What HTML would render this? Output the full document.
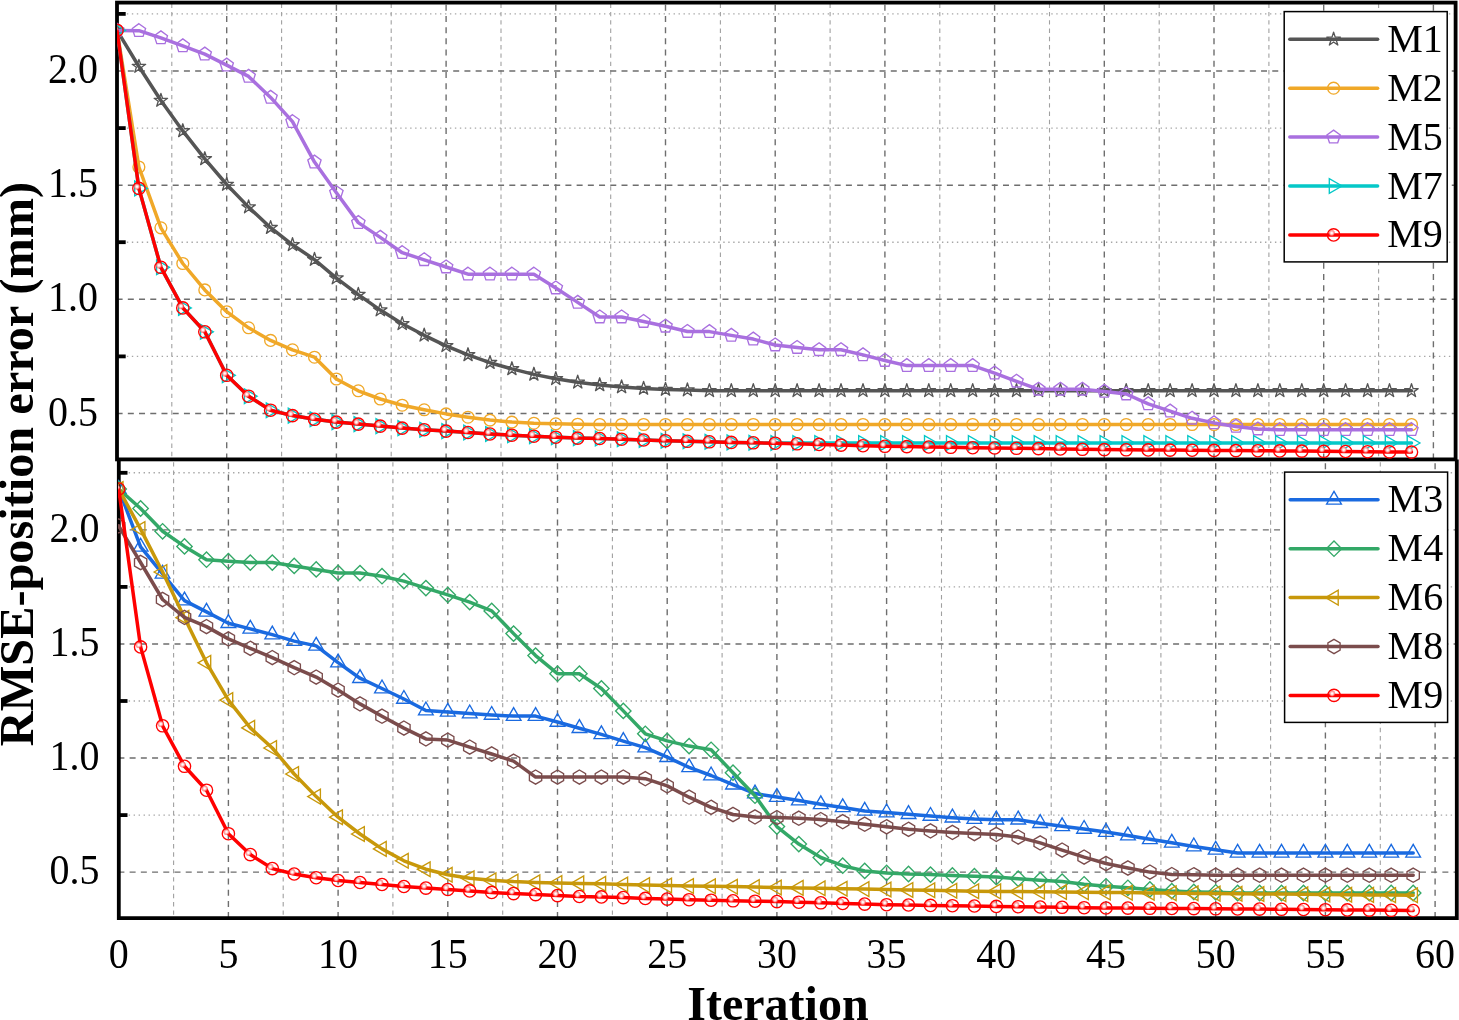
<!DOCTYPE html>
<html><head><meta charset="utf-8"><title>RMSE-position error vs Iteration</title>
<style>
html,body{margin:0;padding:0;background:#fff;}
body{width:1459px;height:1020px;overflow:hidden;}
svg{display:block;will-change:transform;}
text{font-family:"Liberation Serif",serif;fill:#000;}
.tt{font-weight:bold;}
</style></head><body>
<svg width="1459" height="1020" viewBox="0 0 1459 1020">
<defs><radialGradient id="hl"><stop offset="0" stop-color="#fff"/><stop offset="0.22" stop-color="#fff4f4"/><stop offset="0.55" stop-color="#ffa0a0" stop-opacity="0.95"/><stop offset="0.8" stop-color="#ff5555" stop-opacity="0.55"/><stop offset="1" stop-color="#ff0000" stop-opacity="0"/></radialGradient>
<clipPath id="ct"><rect x="117.0" y="2.6" width="1338.6" height="456.8"/></clipPath>
<clipPath id="cb"><rect x="118.0" y="459.4" width="1338.8" height="458.7"/></clipPath>
</defs>
<rect width="1459" height="1020" fill="#fff"/>
<g clip-path="url(#ct)"><g stroke="#a6a6a6" stroke-width="1.4" stroke-dasharray="1.4 3.57" fill="none"><line x1="121.9" y1="13.9" x2="1455.6" y2="13.9"/><line x1="121.9" y1="128.1" x2="1455.6" y2="128.1"/><line x1="121.9" y1="242.2" x2="1455.6" y2="242.2"/><line x1="121.9" y1="356.4" x2="1455.6" y2="356.4"/></g><g stroke="#a0a0a0" stroke-width="1.1" stroke-dasharray="4.4 3.9" fill="none"><line x1="171.8" y1="3.6" x2="171.8" y2="459.4"/><line x1="281.6" y1="3.6" x2="281.6" y2="459.4"/><line x1="391.2" y1="3.6" x2="391.2" y2="459.4"/><line x1="501.0" y1="3.6" x2="501.0" y2="459.4"/><line x1="610.7" y1="3.6" x2="610.7" y2="459.4"/><line x1="720.4" y1="3.6" x2="720.4" y2="459.4"/><line x1="830.1" y1="3.6" x2="830.1" y2="459.4"/><line x1="939.8" y1="3.6" x2="939.8" y2="459.4"/><line x1="1049.5" y1="3.6" x2="1049.5" y2="459.4"/><line x1="1159.2" y1="3.6" x2="1159.2" y2="459.4"/><line x1="1268.9" y1="3.6" x2="1268.9" y2="459.4"/><line x1="1378.6" y1="3.6" x2="1378.6" y2="459.4"/></g><g stroke="#6e6e6e" stroke-width="1.4" stroke-dasharray="6 5.22" fill="none"><line x1="116.6" y1="71.0" x2="1455.6" y2="71.0"/><line x1="116.6" y1="185.2" x2="1455.6" y2="185.2"/><line x1="116.6" y1="299.3" x2="1455.6" y2="299.3"/><line x1="116.6" y1="413.5" x2="1455.6" y2="413.5"/><line x1="226.7" y1="4.7" x2="226.7" y2="459.4"/><line x1="336.4" y1="4.7" x2="336.4" y2="459.4"/><line x1="446.1" y1="4.7" x2="446.1" y2="459.4"/><line x1="555.8" y1="4.7" x2="555.8" y2="459.4"/><line x1="665.5" y1="4.7" x2="665.5" y2="459.4"/><line x1="775.2" y1="4.7" x2="775.2" y2="459.4"/><line x1="884.9" y1="4.7" x2="884.9" y2="459.4"/><line x1="994.6" y1="4.7" x2="994.6" y2="459.4"/><line x1="1104.3" y1="4.7" x2="1104.3" y2="459.4"/><line x1="1214.0" y1="4.7" x2="1214.0" y2="459.4"/><line x1="1323.7" y1="4.7" x2="1323.7" y2="459.4"/><line x1="1433.4" y1="4.7" x2="1433.4" y2="459.4"/></g></g>
<g clip-path="url(#cb)"><g stroke="#a6a6a6" stroke-width="1.4" stroke-dasharray="1.4 3.57" fill="none"><line x1="123.7" y1="472.8" x2="1456.8" y2="472.8"/><line x1="123.7" y1="586.9" x2="1456.8" y2="586.9"/><line x1="123.7" y1="701.0" x2="1456.8" y2="701.0"/><line x1="123.7" y1="815.1" x2="1456.8" y2="815.1"/></g><g stroke="#a0a0a0" stroke-width="1.1" stroke-dasharray="4.4 3.9" fill="none"><line x1="173.6" y1="462.2" x2="173.6" y2="918.1"/><line x1="283.2" y1="462.2" x2="283.2" y2="918.1"/><line x1="392.9" y1="462.2" x2="392.9" y2="918.1"/><line x1="502.7" y1="462.2" x2="502.7" y2="918.1"/><line x1="612.4" y1="462.2" x2="612.4" y2="918.1"/><line x1="722.1" y1="462.2" x2="722.1" y2="918.1"/><line x1="831.8" y1="462.2" x2="831.8" y2="918.1"/><line x1="941.5" y1="462.2" x2="941.5" y2="918.1"/><line x1="1051.2" y1="462.2" x2="1051.2" y2="918.1"/><line x1="1160.9" y1="462.2" x2="1160.9" y2="918.1"/><line x1="1270.6" y1="462.2" x2="1270.6" y2="918.1"/><line x1="1380.3" y1="462.2" x2="1380.3" y2="918.1"/></g><g stroke="#6e6e6e" stroke-width="1.4" stroke-dasharray="6 5.22" fill="none"><line x1="118.4" y1="529.9" x2="1456.8" y2="529.9"/><line x1="118.4" y1="644.0" x2="1456.8" y2="644.0"/><line x1="118.4" y1="758.0" x2="1456.8" y2="758.0"/><line x1="118.4" y1="872.1" x2="1456.8" y2="872.1"/><line x1="228.4" y1="463.3" x2="228.4" y2="918.1"/><line x1="338.1" y1="463.3" x2="338.1" y2="918.1"/><line x1="447.8" y1="463.3" x2="447.8" y2="918.1"/><line x1="557.5" y1="463.3" x2="557.5" y2="918.1"/><line x1="667.2" y1="463.3" x2="667.2" y2="918.1"/><line x1="776.9" y1="463.3" x2="776.9" y2="918.1"/><line x1="886.6" y1="463.3" x2="886.6" y2="918.1"/><line x1="996.3" y1="463.3" x2="996.3" y2="918.1"/><line x1="1106.0" y1="463.3" x2="1106.0" y2="918.1"/><line x1="1215.7" y1="463.3" x2="1215.7" y2="918.1"/><line x1="1325.4" y1="463.3" x2="1325.4" y2="918.1"/><line x1="1435.1" y1="463.3" x2="1435.1" y2="918.1"/></g></g>
<g stroke="#000" stroke-width="3.8" fill="none" stroke-linecap="butt">
<rect x="117.0" y="2.6" width="1338.6" height="456.8"/>
<path d="M118.8 459.4 V918.1 H1456.8 V459.4"/>
<line x1="117.0" y1="13.9" x2="125.7" y2="13.9"/>
<line x1="118.8" y1="472.8" x2="127.5" y2="472.8"/>
<line x1="117.0" y1="128.1" x2="125.7" y2="128.1"/>
<line x1="118.8" y1="586.9" x2="127.5" y2="586.9"/>
<line x1="117.0" y1="242.2" x2="125.7" y2="242.2"/>
<line x1="118.8" y1="701.0" x2="127.5" y2="701.0"/>
<line x1="117.0" y1="356.4" x2="125.7" y2="356.4"/>
<line x1="118.8" y1="815.1" x2="127.5" y2="815.1"/>
</g>
<g clip-path="url(#ct)">
<g stroke="#555555" fill="none"><polyline points="117.0,30.4 138.9,66.5 160.9,100.5 182.8,130.9 204.8,158.9 226.7,184.5 248.6,207.1 270.6,227.7 292.5,244.8 314.5,259.6 336.4,278.1 358.3,294.6 380.3,310.1 402.2,323.8 424.2,335.3 446.1,345.8 468.0,354.9 490.0,362.7 511.9,368.9 533.9,374.4 555.8,378.8 577.7,382.3 599.7,384.9 621.6,387.0 643.6,388.5 665.5,389.5 687.4,390.1 709.4,390.8 731.3,390.8 753.3,390.8 775.2,390.8 797.1,390.8 819.1,390.8 841.0,390.8 863.0,390.8 884.9,390.8 906.8,390.8 928.8,390.8 950.7,390.8 972.7,390.8 994.6,390.8 1016.5,390.8 1038.5,390.8 1060.4,390.8 1082.4,390.8 1104.3,390.8 1126.2,390.8 1148.2,390.8 1170.1,390.8 1192.1,390.8 1214.0,390.8 1235.9,390.8 1257.9,390.8 1279.8,390.8 1301.8,390.8 1323.7,390.8 1345.6,390.8 1367.6,390.8 1389.5,390.8 1411.5,390.8" stroke-width="3.50" stroke-linejoin="round" stroke-linecap="round"/><g stroke-width="1.35" stroke-linejoin="miter"><polygon points="117.0,23.3 118.6,28.2 123.8,28.2 119.6,31.2 121.2,36.1 117.0,33.1 112.8,36.1 114.4,31.2 110.2,28.2 115.4,28.2" stroke-linejoin="round"/><polygon points="138.9,59.4 140.5,64.3 145.7,64.3 141.5,67.3 143.1,72.2 138.9,69.2 134.8,72.2 136.4,67.3 132.2,64.3 137.3,64.3" stroke-linejoin="round"/><polygon points="160.9,93.4 162.5,98.3 167.6,98.3 163.5,101.3 165.1,106.2 160.9,103.2 156.7,106.2 158.3,101.3 154.1,98.3 159.3,98.3" stroke-linejoin="round"/><polygon points="182.8,123.8 184.4,128.7 189.6,128.7 185.4,131.7 187.0,136.6 182.8,133.6 178.6,136.6 180.2,131.7 176.1,128.7 181.2,128.7" stroke-linejoin="round"/><polygon points="204.8,151.8 206.4,156.7 211.5,156.7 207.3,159.7 208.9,164.6 204.8,161.6 200.6,164.6 202.2,159.7 198.0,156.7 203.2,156.7" stroke-linejoin="round"/><polygon points="226.7,177.4 228.3,182.3 233.5,182.3 229.3,185.3 230.9,190.2 226.7,187.2 222.5,190.2 224.1,185.3 219.9,182.3 225.1,182.3" stroke-linejoin="round"/><polygon points="248.6,200.0 250.2,204.9 255.4,204.9 251.2,207.9 252.8,212.8 248.6,209.8 244.5,212.8 246.1,207.9 241.9,204.9 247.0,204.9" stroke-linejoin="round"/><polygon points="270.6,220.6 272.2,225.5 277.3,225.5 273.2,228.5 274.8,233.4 270.6,230.4 266.4,233.4 268.0,228.5 263.8,225.5 269.0,225.5" stroke-linejoin="round"/><polygon points="292.5,237.7 294.1,242.6 299.3,242.6 295.1,245.6 296.7,250.5 292.5,247.5 288.3,250.5 289.9,245.6 285.8,242.6 290.9,242.6" stroke-linejoin="round"/><polygon points="314.5,252.5 316.1,257.4 321.2,257.4 317.0,260.4 318.6,265.3 314.5,262.3 310.3,265.3 311.9,260.4 307.7,257.4 312.9,257.4" stroke-linejoin="round"/><polygon points="336.4,271.0 338.0,275.9 343.2,275.9 339.0,278.9 340.6,283.8 336.4,280.8 332.2,283.8 333.8,278.9 329.6,275.9 334.8,275.9" stroke-linejoin="round"/><polygon points="358.3,287.5 359.9,292.4 365.1,292.4 360.9,295.4 362.5,300.3 358.3,297.3 354.2,300.3 355.8,295.4 351.6,292.4 356.7,292.4" stroke-linejoin="round"/><polygon points="380.3,303.0 381.9,307.9 387.0,307.9 382.9,310.9 384.5,315.8 380.3,312.8 376.1,315.8 377.7,310.9 373.5,307.9 378.7,307.9" stroke-linejoin="round"/><polygon points="402.2,316.7 403.8,321.6 409.0,321.6 404.8,324.6 406.4,329.5 402.2,326.5 398.0,329.5 399.6,324.6 395.5,321.6 400.6,321.6" stroke-linejoin="round"/><polygon points="424.2,328.2 425.8,333.1 430.9,333.1 426.7,336.1 428.3,341.0 424.2,338.0 420.0,341.0 421.6,336.1 417.4,333.1 422.6,333.1" stroke-linejoin="round"/><polygon points="446.1,338.7 447.7,343.6 452.9,343.6 448.7,346.6 450.3,351.5 446.1,348.5 441.9,351.5 443.5,346.6 439.3,343.6 444.5,343.6" stroke-linejoin="round"/><polygon points="468.0,347.8 469.6,352.7 474.8,352.7 470.6,355.7 472.2,360.6 468.0,357.6 463.9,360.6 465.5,355.7 461.3,352.7 466.4,352.7" stroke-linejoin="round"/><polygon points="490.0,355.6 491.6,360.5 496.7,360.5 492.6,363.5 494.2,368.4 490.0,365.4 485.8,368.4 487.4,363.5 483.2,360.5 488.4,360.5" stroke-linejoin="round"/><polygon points="511.9,361.8 513.5,366.7 518.7,366.7 514.5,369.7 516.1,374.6 511.9,371.6 507.7,374.6 509.3,369.7 505.2,366.7 510.3,366.7" stroke-linejoin="round"/><polygon points="533.9,367.3 535.5,372.2 540.6,372.2 536.4,375.2 538.0,380.1 533.9,377.1 529.7,380.1 531.3,375.2 527.1,372.2 532.3,372.2" stroke-linejoin="round"/><polygon points="555.8,371.7 557.4,376.6 562.6,376.6 558.4,379.6 560.0,384.5 555.8,381.5 551.6,384.5 553.2,379.6 549.0,376.6 554.2,376.6" stroke-linejoin="round"/><polygon points="577.7,375.2 579.3,380.1 584.5,380.1 580.3,383.1 581.9,388.0 577.7,385.0 573.6,388.0 575.2,383.1 571.0,380.1 576.1,380.1" stroke-linejoin="round"/><polygon points="599.7,377.8 601.3,382.7 606.4,382.7 602.3,385.7 603.9,390.6 599.7,387.6 595.5,390.6 597.1,385.7 592.9,382.7 598.1,382.7" stroke-linejoin="round"/><polygon points="621.6,379.9 623.2,384.8 628.4,384.8 624.2,387.8 625.8,392.7 621.6,389.7 617.4,392.7 619.0,387.8 614.9,384.8 620.0,384.8" stroke-linejoin="round"/><polygon points="643.6,381.4 645.2,386.3 650.3,386.3 646.1,389.3 647.7,394.2 643.6,391.2 639.4,394.2 641.0,389.3 636.8,386.3 642.0,386.3" stroke-linejoin="round"/><polygon points="665.5,382.4 667.1,387.3 672.3,387.3 668.1,390.3 669.7,395.2 665.5,392.2 661.3,395.2 662.9,390.3 658.7,387.3 663.9,387.3" stroke-linejoin="round"/><polygon points="687.4,383.0 689.0,387.9 694.2,387.9 690.0,390.9 691.6,395.8 687.4,392.8 683.3,395.8 684.9,390.9 680.7,387.9 685.8,387.9" stroke-linejoin="round"/><polygon points="709.4,383.7 711.0,388.6 716.1,388.6 712.0,391.6 713.6,396.5 709.4,393.5 705.2,396.5 706.8,391.6 702.6,388.6 707.8,388.6" stroke-linejoin="round"/><polygon points="731.3,383.7 732.9,388.6 738.1,388.6 733.9,391.6 735.5,396.5 731.3,393.5 727.1,396.5 728.7,391.6 724.6,388.6 729.7,388.6" stroke-linejoin="round"/><polygon points="753.3,383.7 754.9,388.6 760.0,388.6 755.8,391.6 757.4,396.5 753.3,393.5 749.1,396.5 750.7,391.6 746.5,388.6 751.7,388.6" stroke-linejoin="round"/><polygon points="775.2,383.7 776.8,388.6 782.0,388.6 777.8,391.6 779.4,396.5 775.2,393.5 771.0,396.5 772.6,391.6 768.4,388.6 773.6,388.6" stroke-linejoin="round"/><polygon points="797.1,383.7 798.7,388.6 803.9,388.6 799.7,391.6 801.3,396.5 797.1,393.5 793.0,396.5 794.6,391.6 790.4,388.6 795.5,388.6" stroke-linejoin="round"/><polygon points="819.1,383.7 820.7,388.6 825.8,388.6 821.7,391.6 823.3,396.5 819.1,393.5 814.9,396.5 816.5,391.6 812.3,388.6 817.5,388.6" stroke-linejoin="round"/><polygon points="841.0,383.7 842.6,388.6 847.8,388.6 843.6,391.6 845.2,396.5 841.0,393.5 836.8,396.5 838.4,391.6 834.3,388.6 839.4,388.6" stroke-linejoin="round"/><polygon points="863.0,383.7 864.6,388.6 869.7,388.6 865.5,391.6 867.1,396.5 863.0,393.5 858.8,396.5 860.4,391.6 856.2,388.6 861.4,388.6" stroke-linejoin="round"/><polygon points="884.9,383.7 886.5,388.6 891.7,388.6 887.5,391.6 889.1,396.5 884.9,393.5 880.7,396.5 882.3,391.6 878.1,388.6 883.3,388.6" stroke-linejoin="round"/><polygon points="906.8,383.7 908.4,388.6 913.6,388.6 909.4,391.6 911.0,396.5 906.8,393.5 902.7,396.5 904.3,391.6 900.1,388.6 905.2,388.6" stroke-linejoin="round"/><polygon points="928.8,383.7 930.4,388.6 935.5,388.6 931.4,391.6 933.0,396.5 928.8,393.5 924.6,396.5 926.2,391.6 922.0,388.6 927.2,388.6" stroke-linejoin="round"/><polygon points="950.7,383.7 952.3,388.6 957.5,388.6 953.3,391.6 954.9,396.5 950.7,393.5 946.5,396.5 948.1,391.6 944.0,388.6 949.1,388.6" stroke-linejoin="round"/><polygon points="972.7,383.7 974.3,388.6 979.4,388.6 975.2,391.6 976.8,396.5 972.7,393.5 968.5,396.5 970.1,391.6 965.9,388.6 971.1,388.6" stroke-linejoin="round"/><polygon points="994.6,383.7 996.2,388.6 1001.4,388.6 997.2,391.6 998.8,396.5 994.6,393.5 990.4,396.5 992.0,391.6 987.8,388.6 993.0,388.6" stroke-linejoin="round"/><polygon points="1016.5,383.7 1018.1,388.6 1023.3,388.6 1019.1,391.6 1020.7,396.5 1016.5,393.5 1012.4,396.5 1014.0,391.6 1009.8,388.6 1014.9,388.6" stroke-linejoin="round"/><polygon points="1038.5,383.7 1040.1,388.6 1045.2,388.6 1041.1,391.6 1042.7,396.5 1038.5,393.5 1034.3,396.5 1035.9,391.6 1031.7,388.6 1036.9,388.6" stroke-linejoin="round"/><polygon points="1060.4,383.7 1062.0,388.6 1067.2,388.6 1063.0,391.6 1064.6,396.5 1060.4,393.5 1056.2,396.5 1057.8,391.6 1053.7,388.6 1058.8,388.6" stroke-linejoin="round"/><polygon points="1082.4,383.7 1084.0,388.6 1089.1,388.6 1084.9,391.6 1086.5,396.5 1082.4,393.5 1078.2,396.5 1079.8,391.6 1075.6,388.6 1080.8,388.6" stroke-linejoin="round"/><polygon points="1104.3,383.7 1105.9,388.6 1111.1,388.6 1106.9,391.6 1108.5,396.5 1104.3,393.5 1100.1,396.5 1101.7,391.6 1097.5,388.6 1102.7,388.6" stroke-linejoin="round"/><polygon points="1126.2,383.7 1127.8,388.6 1133.0,388.6 1128.8,391.6 1130.4,396.5 1126.2,393.5 1122.1,396.5 1123.7,391.6 1119.5,388.6 1124.6,388.6" stroke-linejoin="round"/><polygon points="1148.2,383.7 1149.8,388.6 1154.9,388.6 1150.8,391.6 1152.4,396.5 1148.2,393.5 1144.0,396.5 1145.6,391.6 1141.4,388.6 1146.6,388.6" stroke-linejoin="round"/><polygon points="1170.1,383.7 1171.7,388.6 1176.9,388.6 1172.7,391.6 1174.3,396.5 1170.1,393.5 1165.9,396.5 1167.5,391.6 1163.4,388.6 1168.5,388.6" stroke-linejoin="round"/><polygon points="1192.1,383.7 1193.7,388.6 1198.8,388.6 1194.6,391.6 1196.2,396.5 1192.1,393.5 1187.9,396.5 1189.5,391.6 1185.3,388.6 1190.5,388.6" stroke-linejoin="round"/><polygon points="1214.0,383.7 1215.6,388.6 1220.8,388.6 1216.6,391.6 1218.2,396.5 1214.0,393.5 1209.8,396.5 1211.4,391.6 1207.2,388.6 1212.4,388.6" stroke-linejoin="round"/><polygon points="1235.9,383.7 1237.5,388.6 1242.7,388.6 1238.5,391.6 1240.1,396.5 1235.9,393.5 1231.8,396.5 1233.4,391.6 1229.2,388.6 1234.3,388.6" stroke-linejoin="round"/><polygon points="1257.9,383.7 1259.5,388.6 1264.6,388.6 1260.5,391.6 1262.1,396.5 1257.9,393.5 1253.7,396.5 1255.3,391.6 1251.1,388.6 1256.3,388.6" stroke-linejoin="round"/><polygon points="1279.8,383.7 1281.4,388.6 1286.6,388.6 1282.4,391.6 1284.0,396.5 1279.8,393.5 1275.6,396.5 1277.2,391.6 1273.1,388.6 1278.2,388.6" stroke-linejoin="round"/><polygon points="1301.8,383.7 1303.4,388.6 1308.5,388.6 1304.3,391.6 1305.9,396.5 1301.8,393.5 1297.6,396.5 1299.2,391.6 1295.0,388.6 1300.2,388.6" stroke-linejoin="round"/><polygon points="1323.7,383.7 1325.3,388.6 1330.5,388.6 1326.3,391.6 1327.9,396.5 1323.7,393.5 1319.5,396.5 1321.1,391.6 1316.9,388.6 1322.1,388.6" stroke-linejoin="round"/><polygon points="1345.6,383.7 1347.2,388.6 1352.4,388.6 1348.2,391.6 1349.8,396.5 1345.6,393.5 1341.5,396.5 1343.1,391.6 1338.9,388.6 1344.0,388.6" stroke-linejoin="round"/><polygon points="1367.6,383.7 1369.2,388.6 1374.3,388.6 1370.2,391.6 1371.8,396.5 1367.6,393.5 1363.4,396.5 1365.0,391.6 1360.8,388.6 1366.0,388.6" stroke-linejoin="round"/><polygon points="1389.5,383.7 1391.1,388.6 1396.3,388.6 1392.1,391.6 1393.7,396.5 1389.5,393.5 1385.3,396.5 1386.9,391.6 1382.8,388.6 1387.9,388.6" stroke-linejoin="round"/><polygon points="1411.5,383.7 1413.1,388.6 1418.2,388.6 1414.0,391.6 1415.6,396.5 1411.5,393.5 1407.3,396.5 1408.9,391.6 1404.7,388.6 1409.9,388.6" stroke-linejoin="round"/></g></g>
<g stroke="#F0A828" fill="none"><polyline points="117.0,30.4 138.9,167.0 160.9,227.8 182.8,263.5 204.8,289.9 226.7,311.7 248.6,327.8 270.6,340.4 292.5,349.8 314.5,357.2 336.4,379.0 358.3,390.8 380.3,399.0 402.2,405.2 424.2,409.8 446.1,413.9 468.0,417.2 490.0,420.1 511.9,422.1 533.9,423.2 555.8,423.8 577.7,424.2 599.7,424.5 621.6,424.5 643.6,424.5 665.5,424.5 687.4,424.5 709.4,424.5 731.3,424.5 753.3,424.5 775.2,424.5 797.1,424.5 819.1,424.5 841.0,424.5 863.0,424.5 884.9,424.5 906.8,424.5 928.8,424.5 950.7,424.5 972.7,424.5 994.6,424.5 1016.5,424.5 1038.5,424.5 1060.4,424.5 1082.4,424.5 1104.3,424.5 1126.2,424.5 1148.2,424.5 1170.1,424.5 1192.1,424.5 1214.0,424.5 1235.9,424.5 1257.9,424.5 1279.8,424.5 1301.8,424.5 1323.7,424.5 1345.6,424.5 1367.6,424.5 1389.5,424.5 1411.5,424.5" stroke-width="3.50" stroke-linejoin="round" stroke-linecap="round"/><g stroke-width="1.35" stroke-linejoin="miter"><circle cx="117.0" cy="30.4" r="5.9"/><circle cx="138.9" cy="167.0" r="5.9"/><circle cx="160.9" cy="227.8" r="5.9"/><circle cx="182.8" cy="263.5" r="5.9"/><circle cx="204.8" cy="289.9" r="5.9"/><circle cx="226.7" cy="311.7" r="5.9"/><circle cx="248.6" cy="327.8" r="5.9"/><circle cx="270.6" cy="340.4" r="5.9"/><circle cx="292.5" cy="349.8" r="5.9"/><circle cx="314.5" cy="357.2" r="5.9"/><circle cx="336.4" cy="379.0" r="5.9"/><circle cx="358.3" cy="390.8" r="5.9"/><circle cx="380.3" cy="399.0" r="5.9"/><circle cx="402.2" cy="405.2" r="5.9"/><circle cx="424.2" cy="409.8" r="5.9"/><circle cx="446.1" cy="413.9" r="5.9"/><circle cx="468.0" cy="417.2" r="5.9"/><circle cx="490.0" cy="420.1" r="5.9"/><circle cx="511.9" cy="422.1" r="5.9"/><circle cx="533.9" cy="423.2" r="5.9"/><circle cx="555.8" cy="423.8" r="5.9"/><circle cx="577.7" cy="424.2" r="5.9"/><circle cx="599.7" cy="424.5" r="5.9"/><circle cx="621.6" cy="424.5" r="5.9"/><circle cx="643.6" cy="424.5" r="5.9"/><circle cx="665.5" cy="424.5" r="5.9"/><circle cx="687.4" cy="424.5" r="5.9"/><circle cx="709.4" cy="424.5" r="5.9"/><circle cx="731.3" cy="424.5" r="5.9"/><circle cx="753.3" cy="424.5" r="5.9"/><circle cx="775.2" cy="424.5" r="5.9"/><circle cx="797.1" cy="424.5" r="5.9"/><circle cx="819.1" cy="424.5" r="5.9"/><circle cx="841.0" cy="424.5" r="5.9"/><circle cx="863.0" cy="424.5" r="5.9"/><circle cx="884.9" cy="424.5" r="5.9"/><circle cx="906.8" cy="424.5" r="5.9"/><circle cx="928.8" cy="424.5" r="5.9"/><circle cx="950.7" cy="424.5" r="5.9"/><circle cx="972.7" cy="424.5" r="5.9"/><circle cx="994.6" cy="424.5" r="5.9"/><circle cx="1016.5" cy="424.5" r="5.9"/><circle cx="1038.5" cy="424.5" r="5.9"/><circle cx="1060.4" cy="424.5" r="5.9"/><circle cx="1082.4" cy="424.5" r="5.9"/><circle cx="1104.3" cy="424.5" r="5.9"/><circle cx="1126.2" cy="424.5" r="5.9"/><circle cx="1148.2" cy="424.5" r="5.9"/><circle cx="1170.1" cy="424.5" r="5.9"/><circle cx="1192.1" cy="424.5" r="5.9"/><circle cx="1214.0" cy="424.5" r="5.9"/><circle cx="1235.9" cy="424.5" r="5.9"/><circle cx="1257.9" cy="424.5" r="5.9"/><circle cx="1279.8" cy="424.5" r="5.9"/><circle cx="1301.8" cy="424.5" r="5.9"/><circle cx="1323.7" cy="424.5" r="5.9"/><circle cx="1345.6" cy="424.5" r="5.9"/><circle cx="1367.6" cy="424.5" r="5.9"/><circle cx="1389.5" cy="424.5" r="5.9"/><circle cx="1411.5" cy="424.5" r="5.9"/></g></g>
<g stroke="#A970DF" fill="none"><polyline points="117.0,30.4 138.9,30.7 160.9,37.9 182.8,45.9 204.8,54.1 226.7,65.1 248.6,76.4 270.6,97.4 292.5,121.7 314.5,162.1 336.4,192.7 358.3,222.6 380.3,237.4 402.2,252.7 424.2,259.8 446.1,267.0 468.0,274.2 490.0,274.2 511.9,274.2 533.9,274.2 555.8,288.0 577.7,302.4 599.7,317.0 621.6,317.0 643.6,321.5 665.5,326.3 687.4,331.5 709.4,331.6 731.3,335.4 753.3,339.1 775.2,345.0 797.1,347.5 819.1,349.8 841.0,349.8 863.0,354.9 884.9,360.5 906.8,365.6 928.8,365.6 950.7,365.6 972.7,365.6 994.6,373.1 1016.5,381.3 1038.5,389.3 1060.4,389.3 1082.4,389.3 1104.3,391.4 1126.2,394.0 1148.2,403.9 1170.1,411.1 1192.1,418.3 1214.0,422.9 1235.9,426.4 1257.9,429.0 1279.8,429.7 1301.8,429.7 1323.7,429.7 1345.6,429.7 1367.6,429.7 1389.5,429.7 1411.5,429.7" stroke-width="3.50" stroke-linejoin="round" stroke-linecap="round"/><g stroke-width="1.35" stroke-linejoin="miter"><polygon points="117.0,23.4 123.7,28.2 121.1,36.1 112.9,36.1 110.3,28.2"/><polygon points="138.9,23.7 145.6,28.5 143.1,36.4 134.8,36.4 132.3,28.5"/><polygon points="160.9,30.9 167.5,35.7 165.0,43.6 156.8,43.6 154.2,35.7"/><polygon points="182.8,38.9 189.5,43.7 186.9,51.6 178.7,51.6 176.2,43.7"/><polygon points="204.8,47.1 211.4,51.9 208.9,59.8 200.6,59.8 198.1,51.9"/><polygon points="226.7,58.1 233.4,62.9 230.8,70.8 222.6,70.8 220.0,62.9"/><polygon points="248.6,69.4 255.3,74.2 252.8,82.1 244.5,82.1 242.0,74.2"/><polygon points="270.6,90.4 277.2,95.2 274.7,103.1 266.5,103.1 263.9,95.2"/><polygon points="292.5,114.7 299.2,119.5 296.6,127.4 288.4,127.4 285.9,119.5"/><polygon points="314.5,155.1 321.1,159.9 318.6,167.8 310.3,167.8 307.8,159.9"/><polygon points="336.4,185.7 343.1,190.5 340.5,198.4 332.3,198.4 329.7,190.5"/><polygon points="358.3,215.6 365.0,220.4 362.5,228.3 354.2,228.3 351.7,220.4"/><polygon points="380.3,230.4 386.9,235.2 384.4,243.1 376.2,243.1 373.6,235.2"/><polygon points="402.2,245.7 408.9,250.5 406.3,258.4 398.1,258.4 395.6,250.5"/><polygon points="424.2,252.8 430.8,257.6 428.3,265.5 420.0,265.5 417.5,257.6"/><polygon points="446.1,260.0 452.8,264.8 450.2,272.7 442.0,272.7 439.4,264.8"/><polygon points="468.0,267.2 474.7,272.0 472.2,279.9 463.9,279.9 461.4,272.0"/><polygon points="490.0,267.2 496.6,272.0 494.1,279.9 485.9,279.9 483.3,272.0"/><polygon points="511.9,267.2 518.6,272.0 516.0,279.9 507.8,279.9 505.3,272.0"/><polygon points="533.9,267.2 540.5,272.0 538.0,279.9 529.7,279.9 527.2,272.0"/><polygon points="555.8,281.0 562.5,285.8 559.9,293.7 551.7,293.7 549.1,285.8"/><polygon points="577.7,295.4 584.4,300.2 581.9,308.1 573.6,308.1 571.1,300.2"/><polygon points="599.7,310.0 606.3,314.8 603.8,322.7 595.6,322.7 593.0,314.8"/><polygon points="621.6,310.0 628.3,314.8 625.7,322.7 617.5,322.7 615.0,314.8"/><polygon points="643.6,314.5 650.2,319.3 647.7,327.2 639.4,327.2 636.9,319.3"/><polygon points="665.5,319.3 672.2,324.1 669.6,332.0 661.4,332.0 658.8,324.1"/><polygon points="687.4,324.5 694.1,329.3 691.6,337.2 683.3,337.2 680.8,329.3"/><polygon points="709.4,324.6 716.0,329.4 713.5,337.3 705.3,337.3 702.7,329.4"/><polygon points="731.3,328.4 738.0,333.2 735.4,341.1 727.2,341.1 724.7,333.2"/><polygon points="753.3,332.1 759.9,336.9 757.4,344.8 749.1,344.8 746.6,336.9"/><polygon points="775.2,338.0 781.9,342.8 779.3,350.7 771.1,350.7 768.5,342.8"/><polygon points="797.1,340.5 803.8,345.3 801.3,353.2 793.0,353.2 790.5,345.3"/><polygon points="819.1,342.8 825.7,347.6 823.2,355.5 815.0,355.5 812.4,347.6"/><polygon points="841.0,342.8 847.7,347.6 845.1,355.5 836.9,355.5 834.4,347.6"/><polygon points="863.0,347.9 869.6,352.7 867.1,360.6 858.8,360.6 856.3,352.7"/><polygon points="884.9,353.5 891.6,358.3 889.0,366.2 880.8,366.2 878.2,358.3"/><polygon points="906.8,358.6 913.5,363.4 911.0,371.3 902.7,371.3 900.2,363.4"/><polygon points="928.8,358.6 935.4,363.4 932.9,371.3 924.7,371.3 922.1,363.4"/><polygon points="950.7,358.6 957.4,363.4 954.8,371.3 946.6,371.3 944.1,363.4"/><polygon points="972.7,358.6 979.3,363.4 976.8,371.3 968.5,371.3 966.0,363.4"/><polygon points="994.6,366.1 1001.3,370.9 998.7,378.8 990.5,378.8 987.9,370.9"/><polygon points="1016.5,374.3 1023.2,379.1 1020.7,387.0 1012.4,387.0 1009.9,379.1"/><polygon points="1038.5,382.3 1045.1,387.1 1042.6,395.0 1034.4,395.0 1031.8,387.1"/><polygon points="1060.4,382.3 1067.1,387.1 1064.5,395.0 1056.3,395.0 1053.8,387.1"/><polygon points="1082.4,382.3 1089.0,387.1 1086.5,395.0 1078.2,395.0 1075.7,387.1"/><polygon points="1104.3,384.4 1111.0,389.2 1108.4,397.1 1100.2,397.1 1097.6,389.2"/><polygon points="1126.2,387.0 1132.9,391.8 1130.4,399.7 1122.1,399.7 1119.6,391.8"/><polygon points="1148.2,396.9 1154.8,401.7 1152.3,409.6 1144.1,409.6 1141.5,401.7"/><polygon points="1170.1,404.1 1176.8,408.9 1174.2,416.8 1166.0,416.8 1163.5,408.9"/><polygon points="1192.1,411.3 1198.7,416.1 1196.2,424.0 1187.9,424.0 1185.4,416.1"/><polygon points="1214.0,415.9 1220.7,420.7 1218.1,428.6 1209.9,428.6 1207.3,420.7"/><polygon points="1235.9,419.4 1242.6,424.2 1240.1,432.1 1231.8,432.1 1229.3,424.2"/><polygon points="1257.9,422.0 1264.5,426.8 1262.0,434.7 1253.8,434.7 1251.2,426.8"/><polygon points="1279.8,422.7 1286.5,427.5 1283.9,435.4 1275.7,435.4 1273.2,427.5"/><polygon points="1301.8,422.7 1308.4,427.5 1305.9,435.4 1297.6,435.4 1295.1,427.5"/><polygon points="1323.7,422.7 1330.4,427.5 1327.8,435.4 1319.6,435.4 1317.0,427.5"/><polygon points="1345.6,422.7 1352.3,427.5 1349.8,435.4 1341.5,435.4 1339.0,427.5"/><polygon points="1367.6,422.7 1374.2,427.5 1371.7,435.4 1363.5,435.4 1360.9,427.5"/><polygon points="1389.5,422.7 1396.2,427.5 1393.6,435.4 1385.4,435.4 1382.9,427.5"/><polygon points="1411.5,422.7 1418.1,427.5 1415.6,435.4 1407.3,435.4 1404.8,427.5"/></g></g>
<g stroke="#05C8C8" fill="none"><polyline points="117.0,30.4 138.9,188.4 160.9,267.3 182.8,307.9 204.8,331.8 226.7,375.3 248.6,396.2 270.6,410.2 292.5,415.6 314.5,419.3 336.4,422.1 358.3,424.1 380.3,426.1 402.2,428.1 424.2,429.7 446.1,431.1 468.0,432.5 490.0,434.0 511.9,435.2 533.9,436.2 555.8,437.2 577.7,438.1 599.7,438.5 621.6,439.2 643.6,440.0 665.5,440.7 687.4,441.3 709.4,441.8 731.3,442.4 753.3,442.8 775.2,443.0 797.1,443.0 819.1,443.0 841.0,443.0 863.0,443.0 884.9,443.0 906.8,443.0 928.8,443.0 950.7,443.0 972.7,443.0 994.6,443.0 1016.5,443.0 1038.5,443.0 1060.4,443.0 1082.4,443.0 1104.3,443.0 1126.2,443.0 1148.2,443.0 1170.1,443.0 1192.1,443.0 1214.0,443.0 1235.9,443.0 1257.9,443.0 1279.8,443.0 1301.8,443.0 1323.7,443.0 1345.6,443.0 1367.6,443.0 1389.5,443.0 1411.5,443.0" stroke-width="3.50" stroke-linejoin="round" stroke-linecap="round"/><g stroke-width="1.35" stroke-linejoin="miter"><polygon points="125.5,30.4 112.8,37.8 112.8,23.0"/><polygon points="147.4,188.4 134.7,195.8 134.7,181.0"/><polygon points="169.4,267.3 156.6,274.7 156.6,259.9"/><polygon points="191.3,307.9 178.6,315.3 178.6,300.5"/><polygon points="213.3,331.8 200.5,339.2 200.5,324.4"/><polygon points="235.2,375.3 222.4,382.7 222.4,367.9"/><polygon points="257.1,396.2 244.4,403.6 244.4,388.8"/><polygon points="279.1,410.2 266.3,417.6 266.3,402.8"/><polygon points="301.0,415.6 288.3,423.0 288.3,408.2"/><polygon points="323.0,419.3 310.2,426.7 310.2,411.9"/><polygon points="344.9,422.1 332.1,429.5 332.1,414.7"/><polygon points="366.8,424.1 354.1,431.5 354.1,416.7"/><polygon points="388.8,426.1 376.0,433.5 376.0,418.7"/><polygon points="410.7,428.1 398.0,435.5 398.0,420.7"/><polygon points="432.7,429.7 419.9,437.1 419.9,422.3"/><polygon points="454.6,431.1 441.9,438.5 441.9,423.7"/><polygon points="476.5,432.5 463.8,439.9 463.8,425.1"/><polygon points="498.5,434.0 485.7,441.4 485.7,426.6"/><polygon points="520.4,435.2 507.7,442.6 507.7,427.8"/><polygon points="542.4,436.2 529.6,443.6 529.6,428.8"/><polygon points="564.3,437.2 551.5,444.6 551.5,429.8"/><polygon points="586.2,438.1 573.5,445.5 573.5,430.7"/><polygon points="608.2,438.5 595.4,445.9 595.4,431.1"/><polygon points="630.1,439.2 617.4,446.6 617.4,431.8"/><polygon points="652.1,440.0 639.3,447.4 639.3,432.6"/><polygon points="674.0,440.7 661.2,448.1 661.2,433.3"/><polygon points="695.9,441.3 683.2,448.7 683.2,433.9"/><polygon points="717.9,441.8 705.1,449.2 705.1,434.4"/><polygon points="739.8,442.4 727.1,449.8 727.1,435.0"/><polygon points="761.8,442.8 749.0,450.2 749.0,435.4"/><polygon points="783.7,443.0 771.0,450.4 771.0,435.6"/><polygon points="805.6,443.0 792.9,450.4 792.9,435.6"/><polygon points="827.6,443.0 814.8,450.4 814.8,435.6"/><polygon points="849.5,443.0 836.8,450.4 836.8,435.6"/><polygon points="871.5,443.0 858.7,450.4 858.7,435.6"/><polygon points="893.4,443.0 880.7,450.4 880.7,435.6"/><polygon points="915.3,443.0 902.6,450.4 902.6,435.6"/><polygon points="937.3,443.0 924.5,450.4 924.5,435.6"/><polygon points="959.2,443.0 946.5,450.4 946.5,435.6"/><polygon points="981.2,443.0 968.4,450.4 968.4,435.6"/><polygon points="1003.1,443.0 990.4,450.4 990.4,435.6"/><polygon points="1025.0,443.0 1012.3,450.4 1012.3,435.6"/><polygon points="1047.0,443.0 1034.2,450.4 1034.2,435.6"/><polygon points="1068.9,443.0 1056.2,450.4 1056.2,435.6"/><polygon points="1090.9,443.0 1078.1,450.4 1078.1,435.6"/><polygon points="1112.8,443.0 1100.1,450.4 1100.1,435.6"/><polygon points="1134.7,443.0 1122.0,450.4 1122.0,435.6"/><polygon points="1156.7,443.0 1143.9,450.4 1143.9,435.6"/><polygon points="1178.6,443.0 1165.9,450.4 1165.9,435.6"/><polygon points="1200.6,443.0 1187.8,450.4 1187.8,435.6"/><polygon points="1222.5,443.0 1209.8,450.4 1209.8,435.6"/><polygon points="1244.4,443.0 1231.7,450.4 1231.7,435.6"/><polygon points="1266.4,443.0 1253.6,450.4 1253.6,435.6"/><polygon points="1288.3,443.0 1275.6,450.4 1275.6,435.6"/><polygon points="1310.3,443.0 1297.5,450.4 1297.5,435.6"/><polygon points="1332.2,443.0 1319.5,450.4 1319.5,435.6"/><polygon points="1354.1,443.0 1341.4,450.4 1341.4,435.6"/><polygon points="1376.1,443.0 1363.3,450.4 1363.3,435.6"/><polygon points="1398.0,443.0 1385.3,450.4 1385.3,435.6"/><polygon points="1420.0,443.0 1407.2,450.4 1407.2,435.6"/></g></g>
<g stroke="#FF0000" fill="none"><polyline points="117.0,30.4 138.9,188.4 160.9,267.3 182.8,307.9 204.8,331.8 226.7,375.3 248.6,396.2 270.6,410.2 292.5,415.6 314.5,419.3 336.4,422.1 358.3,424.1 380.3,426.1 402.2,428.1 424.2,429.7 446.1,431.1 468.0,432.5 490.0,434.0 511.9,435.2 533.9,436.2 555.8,437.2 577.7,438.1 599.7,438.5 621.6,439.2 643.6,440.0 665.5,440.7 687.4,441.3 709.4,441.8 731.3,442.4 753.3,442.8 775.2,443.2 797.1,443.8 819.1,444.4 841.0,445.1 863.0,445.7 884.9,446.3 906.8,446.6 928.8,447.0 950.7,447.3 972.7,447.7 994.6,448.0 1016.5,448.3 1038.5,448.6 1060.4,449.0 1082.4,449.3 1104.3,449.6 1126.2,449.8 1148.2,449.9 1170.1,450.1 1192.1,450.2 1214.0,450.4 1235.9,450.6 1257.9,450.7 1279.8,450.9 1301.8,451.1 1323.7,451.3 1345.6,451.5 1367.6,451.7 1389.5,451.9 1411.5,452.1" stroke-width="3.50" stroke-linejoin="round" stroke-linecap="round"/><g stroke="none" fill="url(#hl)"><circle cx="115.1" cy="28.5" r="3.6"/><circle cx="137.0" cy="186.6" r="3.6"/><circle cx="159.0" cy="265.4" r="3.6"/><circle cx="180.9" cy="306.1" r="3.6"/><circle cx="202.9" cy="329.9" r="3.6"/><circle cx="224.8" cy="373.4" r="3.6"/><circle cx="246.7" cy="394.3" r="3.6"/><circle cx="268.7" cy="408.3" r="3.6"/><circle cx="290.6" cy="413.8" r="3.6"/><circle cx="312.6" cy="417.4" r="3.6"/><circle cx="334.5" cy="420.2" r="3.6"/><circle cx="356.4" cy="422.2" r="3.6"/><circle cx="378.4" cy="424.2" r="3.6"/><circle cx="400.3" cy="426.2" r="3.6"/><circle cx="422.3" cy="427.8" r="3.6"/><circle cx="444.2" cy="429.2" r="3.6"/><circle cx="466.1" cy="430.6" r="3.6"/><circle cx="488.1" cy="432.1" r="3.6"/><circle cx="510.0" cy="433.3" r="3.6"/><circle cx="532.0" cy="434.3" r="3.6"/><circle cx="553.9" cy="435.3" r="3.6"/><circle cx="575.8" cy="436.2" r="3.6"/><circle cx="597.8" cy="436.6" r="3.6"/><circle cx="619.7" cy="437.3" r="3.6"/><circle cx="641.7" cy="438.1" r="3.6"/><circle cx="663.6" cy="438.8" r="3.6"/><circle cx="685.5" cy="439.4" r="3.6"/><circle cx="707.5" cy="439.9" r="3.6"/><circle cx="729.4" cy="440.6" r="3.6"/><circle cx="751.4" cy="440.9" r="3.6"/><circle cx="773.3" cy="441.3" r="3.6"/><circle cx="795.2" cy="441.9" r="3.6"/><circle cx="817.2" cy="442.6" r="3.6"/><circle cx="839.1" cy="443.2" r="3.6"/><circle cx="861.1" cy="443.8" r="3.6"/><circle cx="883.0" cy="444.4" r="3.6"/><circle cx="904.9" cy="444.8" r="3.6"/><circle cx="926.9" cy="445.1" r="3.6"/><circle cx="948.8" cy="445.5" r="3.6"/><circle cx="970.8" cy="445.8" r="3.6"/><circle cx="992.7" cy="446.1" r="3.6"/><circle cx="1014.6" cy="446.5" r="3.6"/><circle cx="1036.6" cy="446.8" r="3.6"/><circle cx="1058.5" cy="447.1" r="3.6"/><circle cx="1080.5" cy="447.4" r="3.6"/><circle cx="1102.4" cy="447.8" r="3.6"/><circle cx="1124.3" cy="447.9" r="3.6"/><circle cx="1146.3" cy="448.1" r="3.6"/><circle cx="1168.2" cy="448.2" r="3.6"/><circle cx="1190.2" cy="448.4" r="3.6"/><circle cx="1212.1" cy="448.6" r="3.6"/><circle cx="1234.0" cy="448.7" r="3.6"/><circle cx="1256.0" cy="448.9" r="3.6"/><circle cx="1277.9" cy="449.1" r="3.6"/><circle cx="1299.9" cy="449.2" r="3.6"/><circle cx="1321.8" cy="449.4" r="3.6"/><circle cx="1343.7" cy="449.7" r="3.6"/><circle cx="1365.7" cy="449.9" r="3.6"/><circle cx="1387.6" cy="450.1" r="3.6"/><circle cx="1409.6" cy="450.2" r="3.6"/></g><g stroke-width="1.35" stroke-linejoin="miter"><circle cx="117.0" cy="30.4" r="6.15"/><circle cx="138.9" cy="188.4" r="6.15"/><circle cx="160.9" cy="267.3" r="6.15"/><circle cx="182.8" cy="307.9" r="6.15"/><circle cx="204.8" cy="331.8" r="6.15"/><circle cx="226.7" cy="375.3" r="6.15"/><circle cx="248.6" cy="396.2" r="6.15"/><circle cx="270.6" cy="410.2" r="6.15"/><circle cx="292.5" cy="415.6" r="6.15"/><circle cx="314.5" cy="419.3" r="6.15"/><circle cx="336.4" cy="422.1" r="6.15"/><circle cx="358.3" cy="424.1" r="6.15"/><circle cx="380.3" cy="426.1" r="6.15"/><circle cx="402.2" cy="428.1" r="6.15"/><circle cx="424.2" cy="429.7" r="6.15"/><circle cx="446.1" cy="431.1" r="6.15"/><circle cx="468.0" cy="432.5" r="6.15"/><circle cx="490.0" cy="434.0" r="6.15"/><circle cx="511.9" cy="435.2" r="6.15"/><circle cx="533.9" cy="436.2" r="6.15"/><circle cx="555.8" cy="437.2" r="6.15"/><circle cx="577.7" cy="438.1" r="6.15"/><circle cx="599.7" cy="438.5" r="6.15"/><circle cx="621.6" cy="439.2" r="6.15"/><circle cx="643.6" cy="440.0" r="6.15"/><circle cx="665.5" cy="440.7" r="6.15"/><circle cx="687.4" cy="441.3" r="6.15"/><circle cx="709.4" cy="441.8" r="6.15"/><circle cx="731.3" cy="442.4" r="6.15"/><circle cx="753.3" cy="442.8" r="6.15"/><circle cx="775.2" cy="443.2" r="6.15"/><circle cx="797.1" cy="443.8" r="6.15"/><circle cx="819.1" cy="444.4" r="6.15"/><circle cx="841.0" cy="445.1" r="6.15"/><circle cx="863.0" cy="445.7" r="6.15"/><circle cx="884.9" cy="446.3" r="6.15"/><circle cx="906.8" cy="446.6" r="6.15"/><circle cx="928.8" cy="447.0" r="6.15"/><circle cx="950.7" cy="447.3" r="6.15"/><circle cx="972.7" cy="447.7" r="6.15"/><circle cx="994.6" cy="448.0" r="6.15"/><circle cx="1016.5" cy="448.3" r="6.15"/><circle cx="1038.5" cy="448.6" r="6.15"/><circle cx="1060.4" cy="449.0" r="6.15"/><circle cx="1082.4" cy="449.3" r="6.15"/><circle cx="1104.3" cy="449.6" r="6.15"/><circle cx="1126.2" cy="449.8" r="6.15"/><circle cx="1148.2" cy="449.9" r="6.15"/><circle cx="1170.1" cy="450.1" r="6.15"/><circle cx="1192.1" cy="450.2" r="6.15"/><circle cx="1214.0" cy="450.4" r="6.15"/><circle cx="1235.9" cy="450.6" r="6.15"/><circle cx="1257.9" cy="450.7" r="6.15"/><circle cx="1279.8" cy="450.9" r="6.15"/><circle cx="1301.8" cy="451.1" r="6.15"/><circle cx="1323.7" cy="451.3" r="6.15"/><circle cx="1345.6" cy="451.5" r="6.15"/><circle cx="1367.6" cy="451.7" r="6.15"/><circle cx="1389.5" cy="451.9" r="6.15"/><circle cx="1411.5" cy="452.1" r="6.15"/></g></g>
</g>
<g clip-path="url(#cb)">
<g stroke="#1A6AE0" fill="none"><polyline points="118.7,489.0 140.6,546.8 162.6,573.8 184.5,600.6 206.5,611.9 228.4,623.2 250.3,628.9 272.3,634.6 294.2,641.1 316.2,645.9 338.1,662.6 360.0,678.2 382.0,688.5 403.9,699.0 425.9,710.5 447.8,711.9 469.7,713.5 491.7,715.0 513.6,716.1 535.6,716.1 557.5,722.0 579.4,728.2 601.4,734.4 623.3,741.1 645.3,747.6 667.2,757.2 689.1,767.4 711.1,775.5 733.0,784.7 755.0,793.6 776.9,797.1 798.8,800.6 820.8,804.3 842.7,807.4 864.7,810.9 886.6,812.5 908.5,814.2 930.5,816.0 952.4,817.7 974.4,819.1 996.3,819.7 1018.2,819.7 1040.2,823.2 1062.1,826.3 1084.1,829.0 1106.0,832.1 1127.9,835.6 1149.9,839.3 1171.8,842.8 1193.8,846.5 1215.7,849.8 1237.6,852.9 1259.6,852.9 1281.5,852.9 1303.5,852.9 1325.4,852.9 1347.3,852.9 1369.3,852.9 1391.2,852.9 1413.2,852.9" stroke-width="3.50" stroke-linejoin="round" stroke-linecap="round"/><g stroke-width="1.35" stroke-linejoin="miter"><polygon points="118.7,480.5 126.1,493.2 111.3,493.2"/><polygon points="140.6,538.3 148.0,551.1 133.3,551.1"/><polygon points="162.6,565.3 169.9,578.1 155.2,578.1"/><polygon points="184.5,592.1 191.9,604.9 177.2,604.9"/><polygon points="206.5,603.4 213.8,616.1 199.1,616.1"/><polygon points="228.4,614.7 235.8,627.5 221.0,627.5"/><polygon points="250.3,620.4 257.7,633.1 243.0,633.1"/><polygon points="272.3,626.1 279.6,638.9 264.9,638.9"/><polygon points="294.2,632.6 301.6,645.4 286.9,645.4"/><polygon points="316.2,637.4 323.5,650.1 308.8,650.1"/><polygon points="338.1,654.1 345.5,666.9 330.7,666.9"/><polygon points="360.0,669.7 367.4,682.5 352.7,682.5"/><polygon points="382.0,680.0 389.3,692.8 374.6,692.8"/><polygon points="403.9,690.5 411.3,703.2 396.6,703.2"/><polygon points="425.9,702.0 433.2,714.8 418.5,714.8"/><polygon points="447.8,703.4 455.2,716.1 440.4,716.1"/><polygon points="469.7,705.0 477.1,717.8 462.4,717.8"/><polygon points="491.7,706.5 499.0,719.2 484.3,719.2"/><polygon points="513.6,707.6 521.0,720.4 506.3,720.4"/><polygon points="535.6,707.6 542.9,720.4 528.2,720.4"/><polygon points="557.5,713.5 564.9,726.2 550.1,726.2"/><polygon points="579.4,719.7 586.8,732.5 572.1,732.5"/><polygon points="601.4,725.9 608.7,738.6 594.0,738.6"/><polygon points="623.3,732.6 630.7,745.4 616.0,745.4"/><polygon points="645.3,739.1 652.6,751.9 637.9,751.9"/><polygon points="667.2,748.7 674.6,761.5 659.8,761.5"/><polygon points="689.1,758.9 696.5,771.6 681.8,771.6"/><polygon points="711.1,767.0 718.4,779.8 703.7,779.8"/><polygon points="733.0,776.2 740.4,789.0 725.7,789.0"/><polygon points="755.0,785.1 762.3,797.9 747.6,797.9"/><polygon points="776.9,788.6 784.3,801.4 769.5,801.4"/><polygon points="798.8,792.1 806.2,804.9 791.5,804.9"/><polygon points="820.8,795.8 828.1,808.6 813.4,808.6"/><polygon points="842.7,798.9 850.1,811.6 835.4,811.6"/><polygon points="864.7,802.4 872.0,815.1 857.3,815.1"/><polygon points="886.6,804.0 894.0,816.8 879.2,816.8"/><polygon points="908.5,805.7 915.9,818.5 901.2,818.5"/><polygon points="930.5,807.5 937.8,820.2 923.1,820.2"/><polygon points="952.4,809.2 959.8,822.0 945.1,822.0"/><polygon points="974.4,810.6 981.7,823.4 967.0,823.4"/><polygon points="996.3,811.2 1003.7,824.0 988.9,824.0"/><polygon points="1018.2,811.2 1025.6,824.0 1010.9,824.0"/><polygon points="1040.2,814.7 1047.5,827.5 1032.8,827.5"/><polygon points="1062.1,817.8 1069.5,830.6 1054.8,830.6"/><polygon points="1084.1,820.5 1091.4,833.2 1076.7,833.2"/><polygon points="1106.0,823.6 1113.4,836.4 1098.6,836.4"/><polygon points="1127.9,827.1 1135.3,839.9 1120.6,839.9"/><polygon points="1149.9,830.8 1157.2,843.6 1142.5,843.6"/><polygon points="1171.8,834.3 1179.2,847.1 1164.5,847.1"/><polygon points="1193.8,838.0 1201.1,850.8 1186.4,850.8"/><polygon points="1215.7,841.3 1223.1,854.1 1208.3,854.1"/><polygon points="1237.6,844.4 1245.0,857.1 1230.3,857.1"/><polygon points="1259.6,844.4 1266.9,857.1 1252.2,857.1"/><polygon points="1281.5,844.4 1288.9,857.1 1274.2,857.1"/><polygon points="1303.5,844.4 1310.8,857.1 1296.1,857.1"/><polygon points="1325.4,844.4 1332.8,857.1 1318.0,857.1"/><polygon points="1347.3,844.4 1354.7,857.1 1340.0,857.1"/><polygon points="1369.3,844.4 1376.6,857.1 1361.9,857.1"/><polygon points="1391.2,844.4 1398.6,857.1 1383.9,857.1"/><polygon points="1413.2,844.4 1420.5,857.1 1405.8,857.1"/></g></g>
<g stroke="#33A867" fill="none"><polyline points="118.7,489.0 140.6,508.5 162.6,531.3 184.5,546.4 206.5,559.7 228.4,561.2 250.3,562.6 272.3,562.6 294.2,565.9 316.2,569.4 338.1,572.9 360.0,573.1 382.0,576.2 403.9,581.1 425.9,588.1 447.8,594.9 469.7,602.1 491.7,610.9 513.6,633.6 535.6,655.6 557.5,673.7 579.4,673.7 601.4,688.5 623.3,710.9 645.3,733.8 667.2,740.9 689.1,746.1 711.1,749.8 733.0,772.7 755.0,795.7 776.9,826.6 798.8,844.1 820.8,857.5 842.7,865.7 864.7,870.9 886.6,872.9 908.5,874.0 930.5,874.6 952.4,875.4 974.4,876.2 996.3,877.1 1018.2,878.7 1040.2,880.2 1062.1,881.6 1084.1,884.3 1106.0,886.3 1127.9,887.8 1149.9,889.4 1171.8,891.1 1193.8,891.9 1215.7,892.3 1237.6,893.0 1259.6,893.0 1281.5,893.0 1303.5,893.0 1325.4,893.0 1347.3,893.0 1369.3,893.0 1391.2,893.0 1413.2,893.0" stroke-width="3.50" stroke-linejoin="round" stroke-linecap="round"/><g stroke-width="1.35" stroke-linejoin="miter"><polygon points="126.4,489.0 118.7,496.7 111.0,489.0 118.7,481.3"/><polygon points="148.3,508.5 140.6,516.2 132.9,508.5 140.6,500.8"/><polygon points="170.3,531.3 162.6,539.0 154.9,531.3 162.6,523.6"/><polygon points="192.2,546.4 184.5,554.1 176.8,546.4 184.5,538.7"/><polygon points="214.2,559.7 206.5,567.4 198.8,559.7 206.5,552.0"/><polygon points="236.1,561.2 228.4,568.9 220.7,561.2 228.4,553.5"/><polygon points="258.0,562.6 250.3,570.3 242.6,562.6 250.3,554.9"/><polygon points="280.0,562.6 272.3,570.3 264.6,562.6 272.3,554.9"/><polygon points="301.9,565.9 294.2,573.6 286.5,565.9 294.2,558.2"/><polygon points="323.9,569.4 316.2,577.1 308.5,569.4 316.2,561.7"/><polygon points="345.8,572.9 338.1,580.6 330.4,572.9 338.1,565.2"/><polygon points="367.7,573.1 360.0,580.8 352.3,573.1 360.0,565.4"/><polygon points="389.7,576.2 382.0,583.9 374.3,576.2 382.0,568.5"/><polygon points="411.6,581.1 403.9,588.8 396.2,581.1 403.9,573.4"/><polygon points="433.6,588.1 425.9,595.8 418.2,588.1 425.9,580.4"/><polygon points="455.5,594.9 447.8,602.6 440.1,594.9 447.8,587.2"/><polygon points="477.4,602.1 469.7,609.8 462.0,602.1 469.7,594.4"/><polygon points="499.4,610.9 491.7,618.6 484.0,610.9 491.7,603.2"/><polygon points="521.3,633.6 513.6,641.3 505.9,633.6 513.6,625.9"/><polygon points="543.3,655.6 535.6,663.3 527.9,655.6 535.6,647.9"/><polygon points="565.2,673.7 557.5,681.4 549.8,673.7 557.5,666.0"/><polygon points="587.1,673.7 579.4,681.4 571.7,673.7 579.4,666.0"/><polygon points="609.1,688.5 601.4,696.2 593.7,688.5 601.4,680.8"/><polygon points="631.0,710.9 623.3,718.6 615.6,710.9 623.3,703.2"/><polygon points="653.0,733.8 645.3,741.5 637.6,733.8 645.3,726.1"/><polygon points="674.9,740.9 667.2,748.6 659.5,740.9 667.2,733.2"/><polygon points="696.8,746.1 689.1,753.8 681.4,746.1 689.1,738.4"/><polygon points="718.8,749.8 711.1,757.5 703.4,749.8 711.1,742.1"/><polygon points="740.7,772.7 733.0,780.4 725.3,772.7 733.0,765.0"/><polygon points="762.7,795.7 755.0,803.4 747.3,795.7 755.0,788.0"/><polygon points="784.6,826.6 776.9,834.3 769.2,826.6 776.9,818.9"/><polygon points="806.5,844.1 798.8,851.8 791.1,844.1 798.8,836.4"/><polygon points="828.5,857.5 820.8,865.2 813.1,857.5 820.8,849.8"/><polygon points="850.4,865.7 842.7,873.4 835.0,865.7 842.7,858.0"/><polygon points="872.4,870.9 864.7,878.6 857.0,870.9 864.7,863.2"/><polygon points="894.3,872.9 886.6,880.6 878.9,872.9 886.6,865.2"/><polygon points="916.2,874.0 908.5,881.7 900.8,874.0 908.5,866.3"/><polygon points="938.2,874.6 930.5,882.3 922.8,874.6 930.5,866.9"/><polygon points="960.1,875.4 952.4,883.1 944.7,875.4 952.4,867.7"/><polygon points="982.1,876.2 974.4,883.9 966.7,876.2 974.4,868.5"/><polygon points="1004.0,877.1 996.3,884.8 988.6,877.1 996.3,869.4"/><polygon points="1025.9,878.7 1018.2,886.4 1010.5,878.7 1018.2,871.0"/><polygon points="1047.9,880.2 1040.2,887.9 1032.5,880.2 1040.2,872.5"/><polygon points="1069.8,881.6 1062.1,889.3 1054.4,881.6 1062.1,873.9"/><polygon points="1091.8,884.3 1084.1,892.0 1076.4,884.3 1084.1,876.6"/><polygon points="1113.7,886.3 1106.0,894.0 1098.3,886.3 1106.0,878.6"/><polygon points="1135.6,887.8 1127.9,895.5 1120.2,887.8 1127.9,880.1"/><polygon points="1157.6,889.4 1149.9,897.1 1142.2,889.4 1149.9,881.7"/><polygon points="1179.5,891.1 1171.8,898.8 1164.1,891.1 1171.8,883.4"/><polygon points="1201.5,891.9 1193.8,899.6 1186.1,891.9 1193.8,884.2"/><polygon points="1223.4,892.3 1215.7,900.0 1208.0,892.3 1215.7,884.6"/><polygon points="1245.3,893.0 1237.6,900.7 1229.9,893.0 1237.6,885.3"/><polygon points="1267.3,893.0 1259.6,900.7 1251.9,893.0 1259.6,885.3"/><polygon points="1289.2,893.0 1281.5,900.7 1273.8,893.0 1281.5,885.3"/><polygon points="1311.2,893.0 1303.5,900.7 1295.8,893.0 1303.5,885.3"/><polygon points="1333.1,893.0 1325.4,900.7 1317.7,893.0 1325.4,885.3"/><polygon points="1355.0,893.0 1347.3,900.7 1339.6,893.0 1347.3,885.3"/><polygon points="1377.0,893.0 1369.3,900.7 1361.6,893.0 1369.3,885.3"/><polygon points="1398.9,893.0 1391.2,900.7 1383.5,893.0 1391.2,885.3"/><polygon points="1420.9,893.0 1413.2,900.7 1405.5,893.0 1413.2,885.3"/></g></g>
<g stroke="#C8980A" fill="none"><polyline points="118.7,489.0 140.6,529.1 162.6,572.0 184.5,617.7 206.5,662.8 228.4,700.1 250.3,727.9 272.3,748.0 294.2,774.0 316.2,796.6 338.1,817.2 360.0,834.0 382.0,848.9 403.9,860.8 425.9,869.2 447.8,874.8 469.7,878.3 491.7,880.3 513.6,881.6 535.6,882.4 557.5,883.0 579.4,883.4 601.4,883.8 623.3,884.5 645.3,885.1 667.2,885.5 689.1,886.0 711.1,886.2 733.0,886.6 755.0,887.1 776.9,887.5 798.8,887.9 820.8,888.3 842.7,888.7 864.7,889.1 886.6,889.5 908.5,889.9 930.5,890.3 952.4,890.8 974.4,891.2 996.3,891.4 1018.2,891.6 1040.2,891.8 1062.1,892.0 1084.1,892.2 1106.0,892.4 1127.9,892.6 1149.9,892.9 1171.8,893.1 1193.8,893.4 1215.7,893.6 1237.6,893.8 1259.6,893.9 1281.5,894.1 1303.5,894.3 1325.4,894.5 1347.3,894.7 1369.3,894.9 1391.2,895.1 1413.2,895.3" stroke-width="3.50" stroke-linejoin="round" stroke-linecap="round"/><g stroke-width="1.35" stroke-linejoin="miter"><polygon points="110.2,489.0 123.0,481.6 123.0,496.4"/><polygon points="132.1,529.1 144.9,521.7 144.9,536.5"/><polygon points="154.1,572.0 166.8,564.6 166.8,579.4"/><polygon points="176.0,617.7 188.8,610.3 188.8,625.1"/><polygon points="198.0,662.8 210.7,655.4 210.7,670.2"/><polygon points="219.9,700.1 232.7,692.7 232.7,707.5"/><polygon points="241.8,727.9 254.6,720.5 254.6,735.3"/><polygon points="263.8,748.0 276.5,740.6 276.5,755.4"/><polygon points="285.7,774.0 298.5,766.6 298.5,781.4"/><polygon points="307.7,796.6 320.4,789.2 320.4,804.0"/><polygon points="329.6,817.2 342.4,809.8 342.4,824.6"/><polygon points="351.5,834.0 364.3,826.6 364.3,841.4"/><polygon points="373.5,848.9 386.2,841.5 386.2,856.3"/><polygon points="395.4,860.8 408.2,853.4 408.2,868.2"/><polygon points="417.4,869.2 430.1,861.8 430.1,876.6"/><polygon points="439.3,874.8 452.1,867.4 452.1,882.2"/><polygon points="461.2,878.3 474.0,870.9 474.0,885.7"/><polygon points="483.2,880.3 495.9,872.9 495.9,887.7"/><polygon points="505.1,881.6 517.9,874.2 517.9,889.0"/><polygon points="527.1,882.4 539.8,875.0 539.8,889.8"/><polygon points="549.0,883.0 561.8,875.6 561.8,890.4"/><polygon points="570.9,883.4 583.7,876.0 583.7,890.8"/><polygon points="592.9,883.8 605.6,876.4 605.6,891.2"/><polygon points="614.8,884.5 627.6,877.1 627.6,891.9"/><polygon points="636.8,885.1 649.5,877.7 649.5,892.5"/><polygon points="658.7,885.5 671.5,878.1 671.5,892.9"/><polygon points="680.6,886.0 693.4,878.6 693.4,893.4"/><polygon points="702.6,886.2 715.3,878.8 715.3,893.6"/><polygon points="724.5,886.6 737.3,879.3 737.3,894.0"/><polygon points="746.5,887.1 759.2,879.7 759.2,894.4"/><polygon points="768.4,887.5 781.2,880.1 781.2,894.9"/><polygon points="790.3,887.9 803.1,880.5 803.1,895.3"/><polygon points="812.3,888.3 825.0,880.9 825.0,895.7"/><polygon points="834.2,888.7 847.0,881.3 847.0,896.1"/><polygon points="856.2,889.1 868.9,881.7 868.9,896.5"/><polygon points="878.1,889.5 890.9,882.1 890.9,896.9"/><polygon points="900.0,889.9 912.8,882.6 912.8,897.3"/><polygon points="922.0,890.3 934.7,883.0 934.7,897.7"/><polygon points="943.9,890.8 956.7,883.4 956.7,898.1"/><polygon points="965.9,891.2 978.6,883.8 978.6,898.6"/><polygon points="987.8,891.4 1000.6,884.0 1000.6,898.8"/><polygon points="1009.7,891.6 1022.5,884.2 1022.5,899.0"/><polygon points="1031.7,891.8 1044.4,884.4 1044.4,899.2"/><polygon points="1053.6,892.0 1066.4,884.6 1066.4,899.4"/><polygon points="1075.6,892.2 1088.3,884.8 1088.3,899.6"/><polygon points="1097.5,892.4 1110.2,885.0 1110.2,899.8"/><polygon points="1119.4,892.6 1132.2,885.3 1132.2,900.0"/><polygon points="1141.4,892.9 1154.1,885.5 1154.1,900.2"/><polygon points="1163.3,893.1 1176.1,885.8 1176.1,900.5"/><polygon points="1185.3,893.4 1198.0,886.0 1198.0,900.7"/><polygon points="1207.2,893.6 1220.0,886.2 1220.0,901.0"/><polygon points="1229.1,893.8 1241.9,886.4 1241.9,901.1"/><polygon points="1251.1,893.9 1263.8,886.6 1263.8,901.3"/><polygon points="1273.0,894.1 1285.8,886.7 1285.8,901.5"/><polygon points="1295.0,894.3 1307.7,886.9 1307.7,901.7"/><polygon points="1316.9,894.5 1329.7,887.1 1329.7,901.9"/><polygon points="1338.8,894.7 1351.6,887.3 1351.6,902.1"/><polygon points="1360.8,894.9 1373.5,887.5 1373.5,902.3"/><polygon points="1382.7,895.1 1395.5,887.7 1395.5,902.5"/><polygon points="1404.7,895.3 1417.4,887.9 1417.4,902.7"/></g></g>
<g stroke="#7B4C4C" fill="none"><polyline points="118.7,525.9 140.6,562.5 162.6,599.5 184.5,617.4 206.5,626.6 228.4,638.9 250.3,648.3 272.3,657.6 294.2,667.7 316.2,677.1 338.1,690.1 360.0,703.9 382.0,716.2 403.9,728.1 425.9,738.9 447.8,740.1 469.7,747.1 491.7,754.0 513.6,761.2 535.6,777.1 557.5,777.1 579.4,777.1 601.4,777.1 623.3,777.1 645.3,778.7 667.2,785.9 689.1,797.2 711.1,807.3 733.0,814.5 755.0,816.9 776.9,817.6 798.8,818.2 820.8,819.6 842.7,821.7 864.7,824.2 886.6,826.8 908.5,829.3 930.5,830.9 952.4,832.4 974.4,833.6 996.3,834.4 1018.2,837.1 1040.2,842.9 1062.1,850.1 1084.1,857.1 1106.0,863.5 1127.9,868.0 1149.9,872.1 1171.8,874.6 1193.8,874.8 1215.7,875.2 1237.6,875.2 1259.6,875.2 1281.5,875.2 1303.5,875.2 1325.4,875.2 1347.3,875.2 1369.3,875.2 1391.2,875.2 1413.2,875.2" stroke-width="3.50" stroke-linejoin="round" stroke-linecap="round"/><g stroke-width="1.35" stroke-linejoin="miter"><polygon points="118.7,518.8 124.8,522.4 124.8,529.4 118.7,533.0 112.6,529.4 112.6,522.4"/><polygon points="140.6,555.4 146.8,559.0 146.8,566.0 140.6,569.6 134.5,566.0 134.5,559.0"/><polygon points="162.6,592.4 168.7,596.0 168.7,603.0 162.6,606.6 156.4,603.0 156.4,596.0"/><polygon points="184.5,610.3 190.7,613.9 190.7,620.9 184.5,624.5 178.4,620.9 178.4,613.9"/><polygon points="206.5,619.5 212.6,623.1 212.6,630.1 206.5,633.7 200.3,630.1 200.3,623.1"/><polygon points="228.4,631.8 234.5,635.4 234.5,642.4 228.4,646.0 222.3,642.4 222.3,635.4"/><polygon points="250.3,641.2 256.5,644.8 256.5,651.8 250.3,655.4 244.2,651.8 244.2,644.8"/><polygon points="272.3,650.5 278.4,654.1 278.4,661.1 272.3,664.7 266.1,661.1 266.1,654.1"/><polygon points="294.2,660.6 300.4,664.2 300.4,671.2 294.2,674.8 288.1,671.2 288.1,664.2"/><polygon points="316.2,670.0 322.3,673.6 322.3,680.6 316.2,684.2 310.0,680.6 310.0,673.6"/><polygon points="338.1,683.0 344.2,686.6 344.2,693.6 338.1,697.2 332.0,693.6 332.0,686.6"/><polygon points="360.0,696.8 366.2,700.4 366.2,707.4 360.0,711.0 353.9,707.4 353.9,700.4"/><polygon points="382.0,709.1 388.1,712.7 388.1,719.8 382.0,723.3 375.8,719.8 375.8,712.7"/><polygon points="403.9,721.0 410.1,724.6 410.1,731.6 403.9,735.2 397.8,731.6 397.8,724.6"/><polygon points="425.9,731.8 432.0,735.4 432.0,742.4 425.9,746.0 419.7,742.4 419.7,735.4"/><polygon points="447.8,733.0 453.9,736.6 453.9,743.6 447.8,747.2 441.7,743.6 441.7,736.6"/><polygon points="469.7,740.0 475.9,743.6 475.9,750.6 469.7,754.2 463.6,750.6 463.6,743.6"/><polygon points="491.7,746.9 497.8,750.5 497.8,757.5 491.7,761.1 485.5,757.5 485.5,750.5"/><polygon points="513.6,754.1 519.8,757.7 519.8,764.8 513.6,768.3 507.5,764.8 507.5,757.7"/><polygon points="535.6,770.0 541.7,773.6 541.7,780.6 535.6,784.2 529.4,780.6 529.4,773.6"/><polygon points="557.5,770.0 563.6,773.6 563.6,780.6 557.5,784.2 551.4,780.6 551.4,773.6"/><polygon points="579.4,770.0 585.6,773.6 585.6,780.6 579.4,784.2 573.3,780.6 573.3,773.6"/><polygon points="601.4,770.0 607.5,773.6 607.5,780.6 601.4,784.2 595.2,780.6 595.2,773.6"/><polygon points="623.3,770.0 629.5,773.6 629.5,780.6 623.3,784.2 617.2,780.6 617.2,773.6"/><polygon points="645.3,771.6 651.4,775.2 651.4,782.2 645.3,785.8 639.1,782.2 639.1,775.2"/><polygon points="667.2,778.8 673.3,782.4 673.3,789.4 667.2,793.0 661.1,789.4 661.1,782.4"/><polygon points="689.1,790.1 695.3,793.7 695.3,800.8 689.1,804.3 683.0,800.8 683.0,793.7"/><polygon points="711.1,800.2 717.2,803.8 717.2,810.8 711.1,814.4 704.9,810.8 704.9,803.8"/><polygon points="733.0,807.4 739.2,811.0 739.2,818.0 733.0,821.6 726.9,818.0 726.9,811.0"/><polygon points="755.0,809.8 761.1,813.4 761.1,820.4 755.0,824.0 748.8,820.4 748.8,813.4"/><polygon points="776.9,810.5 783.0,814.1 783.0,821.1 776.9,824.7 770.8,821.1 770.8,814.1"/><polygon points="798.8,811.1 805.0,814.7 805.0,821.8 798.8,825.3 792.7,821.8 792.7,814.7"/><polygon points="820.8,812.5 826.9,816.1 826.9,823.1 820.8,826.7 814.6,823.1 814.6,816.1"/><polygon points="842.7,814.6 848.9,818.2 848.9,825.2 842.7,828.8 836.6,825.2 836.6,818.2"/><polygon points="864.7,817.1 870.8,820.7 870.8,827.8 864.7,831.3 858.5,827.8 858.5,820.7"/><polygon points="886.6,819.7 892.7,823.2 892.7,830.3 886.6,833.9 880.5,830.3 880.5,823.2"/><polygon points="908.5,822.2 914.7,825.8 914.7,832.8 908.5,836.4 902.4,832.8 902.4,825.8"/><polygon points="930.5,823.8 936.6,827.4 936.6,834.4 930.5,838.0 924.3,834.4 924.3,827.4"/><polygon points="952.4,825.3 958.6,828.9 958.6,835.9 952.4,839.5 946.3,835.9 946.3,828.9"/><polygon points="974.4,826.5 980.5,830.1 980.5,837.1 974.4,840.7 968.2,837.1 968.2,830.1"/><polygon points="996.3,827.3 1002.4,830.9 1002.4,837.9 996.3,841.5 990.2,837.9 990.2,830.9"/><polygon points="1018.2,830.0 1024.4,833.6 1024.4,840.6 1018.2,844.2 1012.1,840.6 1012.1,833.6"/><polygon points="1040.2,835.8 1046.3,839.4 1046.3,846.4 1040.2,850.0 1034.0,846.4 1034.0,839.4"/><polygon points="1062.1,843.0 1068.3,846.6 1068.3,853.6 1062.1,857.2 1056.0,853.6 1056.0,846.6"/><polygon points="1084.1,850.0 1090.2,853.6 1090.2,860.6 1084.1,864.2 1077.9,860.6 1077.9,853.6"/><polygon points="1106.0,856.4 1112.1,860.0 1112.1,867.0 1106.0,870.6 1099.9,867.0 1099.9,860.0"/><polygon points="1127.9,860.9 1134.1,864.5 1134.1,871.5 1127.9,875.1 1121.8,871.5 1121.8,864.5"/><polygon points="1149.9,865.0 1156.0,868.6 1156.0,875.6 1149.9,879.2 1143.7,875.6 1143.7,868.6"/><polygon points="1171.8,867.5 1178.0,871.1 1178.0,878.1 1171.8,881.7 1165.7,878.1 1165.7,871.1"/><polygon points="1193.8,867.7 1199.9,871.2 1199.9,878.3 1193.8,881.9 1187.6,878.3 1187.6,871.2"/><polygon points="1215.7,868.1 1221.8,871.7 1221.8,878.8 1215.7,882.3 1209.6,878.8 1209.6,871.7"/><polygon points="1237.6,868.1 1243.8,871.7 1243.8,878.8 1237.6,882.3 1231.5,878.8 1231.5,871.7"/><polygon points="1259.6,868.1 1265.7,871.7 1265.7,878.8 1259.6,882.3 1253.4,878.8 1253.4,871.7"/><polygon points="1281.5,868.1 1287.7,871.7 1287.7,878.8 1281.5,882.3 1275.4,878.8 1275.4,871.7"/><polygon points="1303.5,868.1 1309.6,871.7 1309.6,878.8 1303.5,882.3 1297.3,878.8 1297.3,871.7"/><polygon points="1325.4,868.1 1331.5,871.7 1331.5,878.8 1325.4,882.3 1319.3,878.8 1319.3,871.7"/><polygon points="1347.3,868.1 1353.5,871.7 1353.5,878.8 1347.3,882.3 1341.2,878.8 1341.2,871.7"/><polygon points="1369.3,868.1 1375.4,871.7 1375.4,878.8 1369.3,882.3 1363.1,878.8 1363.1,871.7"/><polygon points="1391.2,868.1 1397.4,871.7 1397.4,878.8 1391.2,882.3 1385.1,878.8 1385.1,871.7"/><polygon points="1413.2,868.1 1419.3,871.7 1419.3,878.8 1413.2,882.3 1407.0,878.8 1407.0,871.7"/></g></g>
<g stroke="#FF0000" fill="none"><polyline points="118.7,489.0 140.6,646.9 162.6,725.8 184.5,766.3 206.5,790.2 228.4,833.7 250.3,854.6 272.3,868.6 294.2,874.0 316.2,877.7 338.1,880.5 360.0,882.5 382.0,884.5 403.9,886.5 425.9,888.1 447.8,889.5 469.7,890.9 491.7,892.4 513.6,893.6 535.6,894.6 557.5,895.6 579.4,896.5 601.4,896.9 623.3,897.6 645.3,898.4 667.2,899.1 689.1,899.7 711.1,900.2 733.0,900.8 755.0,901.2 776.9,901.6 798.8,902.2 820.8,902.8 842.7,903.4 864.7,904.1 886.6,904.7 908.5,905.0 930.5,905.4 952.4,905.7 974.4,906.0 996.3,906.4 1018.2,906.7 1040.2,907.0 1062.1,907.3 1084.1,907.7 1106.0,908.0 1127.9,908.1 1149.9,908.3 1171.8,908.5 1193.8,908.6 1215.7,908.8 1237.6,909.0 1259.6,909.1 1281.5,909.3 1303.5,909.5 1325.4,909.7 1347.3,909.9 1369.3,910.1 1391.2,910.3 1413.2,910.5" stroke-width="3.50" stroke-linejoin="round" stroke-linecap="round"/><g stroke="none" fill="url(#hl)"><circle cx="116.8" cy="487.1" r="3.6"/><circle cx="138.7" cy="645.0" r="3.6"/><circle cx="160.7" cy="723.9" r="3.6"/><circle cx="182.6" cy="764.5" r="3.6"/><circle cx="204.6" cy="788.4" r="3.6"/><circle cx="226.5" cy="831.9" r="3.6"/><circle cx="248.4" cy="852.8" r="3.6"/><circle cx="270.4" cy="866.8" r="3.6"/><circle cx="292.3" cy="872.1" r="3.6"/><circle cx="314.3" cy="875.8" r="3.6"/><circle cx="336.2" cy="878.6" r="3.6"/><circle cx="358.1" cy="880.6" r="3.6"/><circle cx="380.1" cy="882.6" r="3.6"/><circle cx="402.0" cy="884.6" r="3.6"/><circle cx="424.0" cy="886.2" r="3.6"/><circle cx="445.9" cy="887.6" r="3.6"/><circle cx="467.8" cy="889.0" r="3.6"/><circle cx="489.8" cy="890.5" r="3.6"/><circle cx="511.7" cy="891.7" r="3.6"/><circle cx="533.7" cy="892.7" r="3.6"/><circle cx="555.6" cy="893.7" r="3.6"/><circle cx="577.5" cy="894.6" r="3.6"/><circle cx="599.5" cy="895.0" r="3.6"/><circle cx="621.4" cy="895.7" r="3.6"/><circle cx="643.4" cy="896.5" r="3.6"/><circle cx="665.3" cy="897.2" r="3.6"/><circle cx="687.2" cy="897.8" r="3.6"/><circle cx="709.2" cy="898.3" r="3.6"/><circle cx="731.1" cy="898.9" r="3.6"/><circle cx="753.1" cy="899.3" r="3.6"/><circle cx="775.0" cy="899.7" r="3.6"/><circle cx="796.9" cy="900.3" r="3.6"/><circle cx="818.9" cy="901.0" r="3.6"/><circle cx="840.8" cy="901.6" r="3.6"/><circle cx="862.8" cy="902.2" r="3.6"/><circle cx="884.7" cy="902.8" r="3.6"/><circle cx="906.6" cy="903.2" r="3.6"/><circle cx="928.6" cy="903.5" r="3.6"/><circle cx="950.5" cy="903.9" r="3.6"/><circle cx="972.5" cy="904.2" r="3.6"/><circle cx="994.4" cy="904.5" r="3.6"/><circle cx="1016.3" cy="904.9" r="3.6"/><circle cx="1038.3" cy="905.2" r="3.6"/><circle cx="1060.2" cy="905.5" r="3.6"/><circle cx="1082.2" cy="905.8" r="3.6"/><circle cx="1104.1" cy="906.1" r="3.6"/><circle cx="1126.0" cy="906.3" r="3.6"/><circle cx="1148.0" cy="906.5" r="3.6"/><circle cx="1169.9" cy="906.6" r="3.6"/><circle cx="1191.9" cy="906.8" r="3.6"/><circle cx="1213.8" cy="906.9" r="3.6"/><circle cx="1235.7" cy="907.1" r="3.6"/><circle cx="1257.7" cy="907.3" r="3.6"/><circle cx="1279.6" cy="907.4" r="3.6"/><circle cx="1301.6" cy="907.6" r="3.6"/><circle cx="1323.5" cy="907.8" r="3.6"/><circle cx="1345.4" cy="908.0" r="3.6"/><circle cx="1367.4" cy="908.2" r="3.6"/><circle cx="1389.3" cy="908.4" r="3.6"/><circle cx="1411.3" cy="908.6" r="3.6"/></g><g stroke-width="1.35" stroke-linejoin="miter"><circle cx="118.7" cy="489.0" r="6.15"/><circle cx="140.6" cy="646.9" r="6.15"/><circle cx="162.6" cy="725.8" r="6.15"/><circle cx="184.5" cy="766.3" r="6.15"/><circle cx="206.5" cy="790.2" r="6.15"/><circle cx="228.4" cy="833.7" r="6.15"/><circle cx="250.3" cy="854.6" r="6.15"/><circle cx="272.3" cy="868.6" r="6.15"/><circle cx="294.2" cy="874.0" r="6.15"/><circle cx="316.2" cy="877.7" r="6.15"/><circle cx="338.1" cy="880.5" r="6.15"/><circle cx="360.0" cy="882.5" r="6.15"/><circle cx="382.0" cy="884.5" r="6.15"/><circle cx="403.9" cy="886.5" r="6.15"/><circle cx="425.9" cy="888.1" r="6.15"/><circle cx="447.8" cy="889.5" r="6.15"/><circle cx="469.7" cy="890.9" r="6.15"/><circle cx="491.7" cy="892.4" r="6.15"/><circle cx="513.6" cy="893.6" r="6.15"/><circle cx="535.6" cy="894.6" r="6.15"/><circle cx="557.5" cy="895.6" r="6.15"/><circle cx="579.4" cy="896.5" r="6.15"/><circle cx="601.4" cy="896.9" r="6.15"/><circle cx="623.3" cy="897.6" r="6.15"/><circle cx="645.3" cy="898.4" r="6.15"/><circle cx="667.2" cy="899.1" r="6.15"/><circle cx="689.1" cy="899.7" r="6.15"/><circle cx="711.1" cy="900.2" r="6.15"/><circle cx="733.0" cy="900.8" r="6.15"/><circle cx="755.0" cy="901.2" r="6.15"/><circle cx="776.9" cy="901.6" r="6.15"/><circle cx="798.8" cy="902.2" r="6.15"/><circle cx="820.8" cy="902.8" r="6.15"/><circle cx="842.7" cy="903.4" r="6.15"/><circle cx="864.7" cy="904.1" r="6.15"/><circle cx="886.6" cy="904.7" r="6.15"/><circle cx="908.5" cy="905.0" r="6.15"/><circle cx="930.5" cy="905.4" r="6.15"/><circle cx="952.4" cy="905.7" r="6.15"/><circle cx="974.4" cy="906.0" r="6.15"/><circle cx="996.3" cy="906.4" r="6.15"/><circle cx="1018.2" cy="906.7" r="6.15"/><circle cx="1040.2" cy="907.0" r="6.15"/><circle cx="1062.1" cy="907.3" r="6.15"/><circle cx="1084.1" cy="907.7" r="6.15"/><circle cx="1106.0" cy="908.0" r="6.15"/><circle cx="1127.9" cy="908.1" r="6.15"/><circle cx="1149.9" cy="908.3" r="6.15"/><circle cx="1171.8" cy="908.5" r="6.15"/><circle cx="1193.8" cy="908.6" r="6.15"/><circle cx="1215.7" cy="908.8" r="6.15"/><circle cx="1237.6" cy="909.0" r="6.15"/><circle cx="1259.6" cy="909.1" r="6.15"/><circle cx="1281.5" cy="909.3" r="6.15"/><circle cx="1303.5" cy="909.5" r="6.15"/><circle cx="1325.4" cy="909.7" r="6.15"/><circle cx="1347.3" cy="909.9" r="6.15"/><circle cx="1369.3" cy="910.1" r="6.15"/><circle cx="1391.2" cy="910.3" r="6.15"/><circle cx="1413.2" cy="910.5" r="6.15"/></g></g>
</g>
<rect x="1284.2" y="11.6" width="163.0" height="250.3" fill="#fff" stroke="#000" stroke-width="1.5"/><g stroke="#555555" fill="none"><line x1="1289.8" y1="39.3" x2="1377.6" y2="39.3" stroke-width="3.50" stroke-linecap="round"/><g stroke-width="1.35"><polygon points="1333.6,32.2 1335.2,37.1 1340.4,37.1 1336.2,40.1 1337.8,45.0 1333.6,42.0 1329.4,45.0 1331.0,40.1 1326.8,37.1 1332.0,37.1" stroke-linejoin="round"/></g></g><text x="1387.2" y="51.8" font-size="40" class="lg">M1</text><g stroke="#F0A828" fill="none"><line x1="1289.8" y1="88.2" x2="1377.6" y2="88.2" stroke-width="3.50" stroke-linecap="round"/><g stroke-width="1.35"><circle cx="1333.6" cy="88.2" r="5.9"/></g></g><text x="1387.2" y="100.7" font-size="40" class="lg">M2</text><g stroke="#A970DF" fill="none"><line x1="1289.8" y1="137.1" x2="1377.6" y2="137.1" stroke-width="3.50" stroke-linecap="round"/><g stroke-width="1.35"><polygon points="1333.6,130.1 1340.3,134.9 1337.7,142.8 1329.5,142.8 1326.9,134.9"/></g></g><text x="1387.2" y="149.6" font-size="40" class="lg">M5</text><g stroke="#05C8C8" fill="none"><line x1="1289.8" y1="186.0" x2="1377.6" y2="186.0" stroke-width="3.50" stroke-linecap="round"/><g stroke-width="1.35"><polygon points="1342.1,186.0 1329.3,193.4 1329.3,178.6"/></g></g><text x="1387.2" y="198.5" font-size="40" class="lg">M7</text><g stroke="#FF0000" fill="none"><line x1="1289.8" y1="234.9" x2="1377.6" y2="234.9" stroke-width="3.50" stroke-linecap="round"/><g stroke-width="1.35"><circle cx="1333.6" cy="234.9" r="6.15"/></g><circle cx="1331.7" cy="233.0" r="3.6" stroke="none" fill="url(#hl)"/></g><text x="1387.2" y="247.4" font-size="40" class="lg">M9</text>
<g transform="translate(0.4,0.3)"><rect x="1284.2" y="471.8" width="163.0" height="250.3" fill="#fff" stroke="#000" stroke-width="1.5"/><g stroke="#1A6AE0" fill="none"><line x1="1289.8" y1="499.5" x2="1377.6" y2="499.5" stroke-width="3.50" stroke-linecap="round"/><g stroke-width="1.35"><polygon points="1333.6,491.0 1341.0,503.8 1326.2,503.8"/></g></g><text x="1387.2" y="512.0" font-size="40" class="lg">M3</text><g stroke="#33A867" fill="none"><line x1="1289.8" y1="548.4" x2="1377.6" y2="548.4" stroke-width="3.50" stroke-linecap="round"/><g stroke-width="1.35"><polygon points="1341.3,548.4 1333.6,556.1 1325.9,548.4 1333.6,540.7"/></g></g><text x="1387.2" y="560.9" font-size="40" class="lg">M4</text><g stroke="#C8980A" fill="none"><line x1="1289.8" y1="597.3" x2="1377.6" y2="597.3" stroke-width="3.50" stroke-linecap="round"/><g stroke-width="1.35"><polygon points="1325.1,597.3 1337.8,589.9 1337.8,604.7"/></g></g><text x="1387.2" y="609.8" font-size="40" class="lg">M6</text><g stroke="#7B4C4C" fill="none"><line x1="1289.8" y1="646.2" x2="1377.6" y2="646.2" stroke-width="3.50" stroke-linecap="round"/><g stroke-width="1.35"><polygon points="1333.6,639.1 1339.7,642.7 1339.7,649.8 1333.6,653.3 1327.5,649.8 1327.5,642.7"/></g></g><text x="1387.2" y="658.7" font-size="40" class="lg">M8</text><g stroke="#FF0000" fill="none"><line x1="1289.8" y1="695.1" x2="1377.6" y2="695.1" stroke-width="3.50" stroke-linecap="round"/><g stroke-width="1.35"><circle cx="1333.6" cy="695.1" r="6.15"/></g><circle cx="1331.7" cy="693.2" r="3.6" stroke="none" fill="url(#hl)"/></g><text x="1387.2" y="707.6" font-size="40" class="lg">M9</text></g>
<g font-size="40" class="tk">
<text transform="translate(98,83.0) scale(1,1.045)" text-anchor="end">2.0</text>
<text transform="translate(99.4,541.9) scale(1,1.045)" text-anchor="end">2.0</text>
<text transform="translate(98,197.2) scale(1,1.045)" text-anchor="end">1.5</text>
<text transform="translate(99.4,656.0) scale(1,1.045)" text-anchor="end">1.5</text>
<text transform="translate(98,311.3) scale(1,1.045)" text-anchor="end">1.0</text>
<text transform="translate(99.4,770.0) scale(1,1.045)" text-anchor="end">1.0</text>
<text transform="translate(98,425.5) scale(1,1.045)" text-anchor="end">0.5</text>
<text transform="translate(99.4,884.1) scale(1,1.045)" text-anchor="end">0.5</text>
<text transform="translate(118.7,968.2) scale(1,1.045)" text-anchor="middle">0</text>
<text transform="translate(228.4,968.2) scale(1,1.045)" text-anchor="middle">5</text>
<text transform="translate(338.1,968.2) scale(1,1.045)" text-anchor="middle">10</text>
<text transform="translate(447.8,968.2) scale(1,1.045)" text-anchor="middle">15</text>
<text transform="translate(557.5,968.2) scale(1,1.045)" text-anchor="middle">20</text>
<text transform="translate(667.2,968.2) scale(1,1.045)" text-anchor="middle">25</text>
<text transform="translate(776.9,968.2) scale(1,1.045)" text-anchor="middle">30</text>
<text transform="translate(886.6,968.2) scale(1,1.045)" text-anchor="middle">35</text>
<text transform="translate(996.3,968.2) scale(1,1.045)" text-anchor="middle">40</text>
<text transform="translate(1106.0,968.2) scale(1,1.045)" text-anchor="middle">45</text>
<text transform="translate(1215.7,968.2) scale(1,1.045)" text-anchor="middle">50</text>
<text transform="translate(1325.4,968.2) scale(1,1.045)" text-anchor="middle">55</text>
<text transform="translate(1435.1,968.2) scale(1,1.045)" text-anchor="middle">60</text>
</g>
<text x="778" y="1020" text-anchor="middle" font-size="48" class="tt">Iteration</text>
<text transform="translate(32.9,464) rotate(-90)" text-anchor="middle" font-size="48.3" class="tt">RMSE-position error (mm)</text>
</svg>
</body></html>
